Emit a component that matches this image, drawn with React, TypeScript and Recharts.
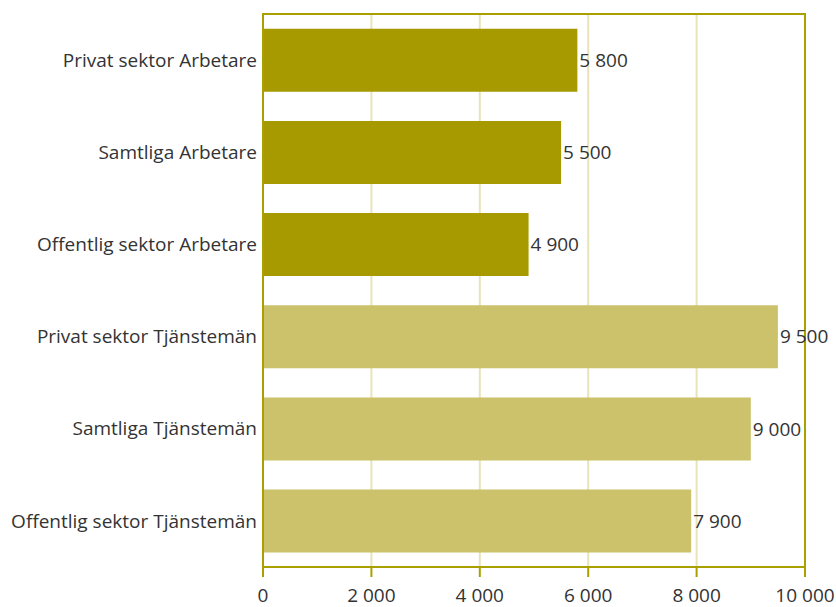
import { BarChart, Bar, XAxis, YAxis, CartesianGrid, ReferenceArea, LabelList, Cell } from 'recharts'

const categories = [
  'Privat sektor Arbetare',
  'Samtliga Arbetare',
  'Offentlig sektor Arbetare',
  'Privat sektor Tjänstemän',
  'Samtliga Tjänstemän',
  'Offentlig sektor Tjänstemän',
]
const values = [5800, 5500, 4900, 9500, 9000, 7900]
const groups = ['Arbetare', 'Arbetare', 'Arbetare', 'Tjänstemän', 'Tjänstemän', 'Tjänstemän']
const xTicks = [0, 2000, 4000, 6000, 8000, 10000]

const COLOR: Record<string, string> = {
  Arbetare: '#a69a00',
  Tjänstemän: '#cbc26b',
}
const FRAME = '#a9a000'
const FONT = '"Open Sans", sans-serif'
const FS = 19

const fmt = (v: number) => String(v).replace(/\B(?=(\d{3})+(?!\d))/g, ' ')

const data = categories.map((name, i) => ({ name, value: values[i], group: groups[i] }))

export default function App() {
  return (
    <div style={{ position: 'absolute', left: 0, top: 0, fontFamily: FONT }}>
      <BarChart
        width={836}
        height={607}
        data={data}
        layout="vertical"
        margin={{ top: 14, right: 31, bottom: 0, left: 0 }}
        barCategoryGap="16%"
      >
        <CartesianGrid horizontal={false} stroke="#e8e3b8" strokeWidth={2} />
        <XAxis
          type="number"
          domain={[0, 10000]}
          ticks={xTicks}
          tickFormatter={fmt}
          height={40}
          axisLine={{ stroke: FRAME, strokeWidth: 2 }}
          tickLine={{ stroke: FRAME, strokeWidth: 2 }}
          tickSize={10}
          tickMargin={12}
          tick={{ fill: '#333', fontSize: FS, fontFamily: FONT }}
        />
        <YAxis
          type="category"
          dataKey="name"
          width={263}
          axisLine={{ stroke: FRAME, strokeWidth: 2 }}
          tickLine={false}
          tickSize={0}
          tickMargin={6}
          tick={{ fill: '#333', fontSize: FS, fontFamily: FONT }}
        />
        <Bar dataKey="value" isAnimationActive={false}>
          {data.map((d, i) => (
            <Cell key={i} fill={COLOR[d.group]} />
          ))}
          <LabelList
            dataKey="value"
            position="right"
            offset={2}
            formatter={(v: any) => fmt(Number(v))}
            style={{ fill: '#333', fontSize: FS, fontFamily: FONT }}
          />
        </Bar>
        <ReferenceArea x1={0} x2={10000} fill="none" stroke={FRAME} strokeWidth={2} ifOverflow="visible" />
      </BarChart>
    </div>
  )
}
